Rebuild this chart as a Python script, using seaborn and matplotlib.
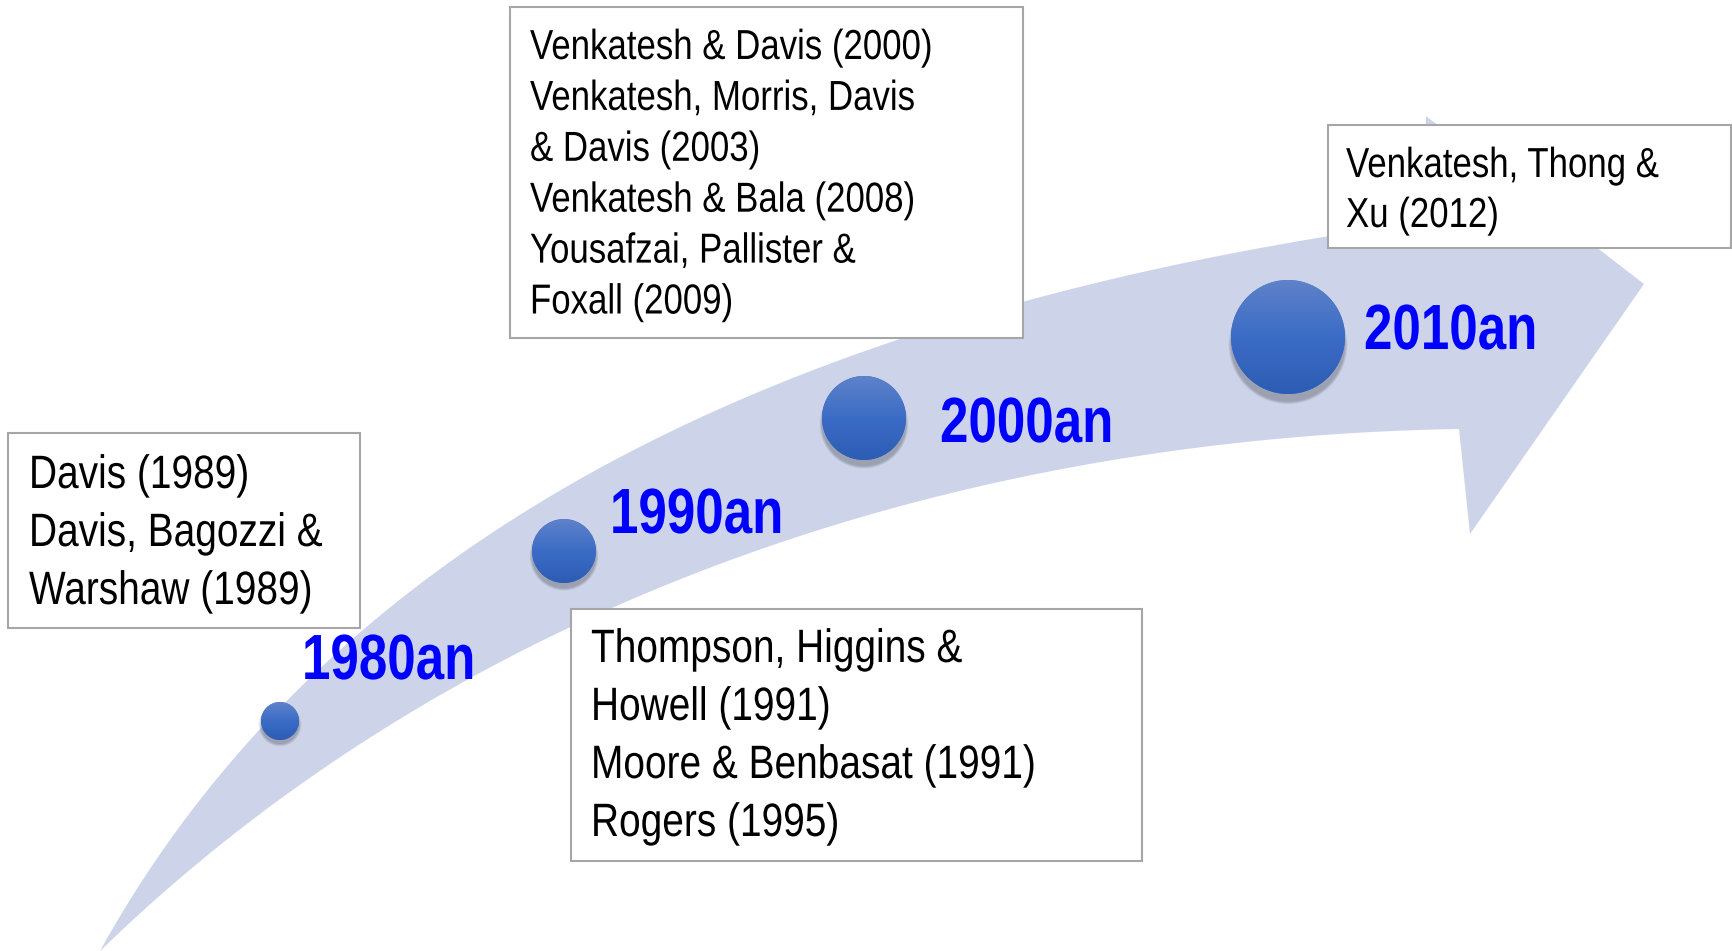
import numpy as np
import pandas as pd
import matplotlib
matplotlib.use('Agg')
import matplotlib.pyplot as plt
from matplotlib.patches import Polygon, Rectangle, Circle
from matplotlib.colors import LinearSegmentedColormap
from matplotlib.patheffects import AbstractPathEffect
from matplotlib.transforms import Affine2D
import seaborn as sns

# 데이터 (텍스트 내용)
decades = ['1980an', '1990an', '2000an', '2010an']
refs_1980 = ['Davis (1989)', 'Davis, Bagozzi &', 'Warshaw (1989)']
refs_1990 = ['Thompson, Higgins &', 'Howell (1991)', 'Moore & Benbasat (1991)', 'Rogers (1995)']
refs_2000 = ['Venkatesh & Davis (2000)', 'Venkatesh, Morris, Davis', '& Davis (2003)',
             'Venkatesh & Bala (2008)', 'Yousafzai, Pallister &', 'Foxall (2009)']
refs_2010 = ['Venkatesh, Thong &', 'Xu (2012)']

# 레이아웃 (픽셀 좌표, y 아래로 증가)
W, H = 1733, 951
DOT_X = [280, 564, 864, 1288]
DOT_Y = [721, 551, 418, 337]
DOT_R = [19, 32, 42, 57]
LABEL_X = [302, 610, 940, 1364]
LABEL_Y = [679, 533, 442, 349]
# (lines, box rect, text_x, first_baseline, line_step, fontsize)
BOXES = [
    (refs_1980, (8, 433, 360, 628), 29, 488, 58, 33.7),
    (refs_2000, (510, 7, 1023, 338), 530, 59, 50.9, 30.2),
    (refs_1990, (571, 609, 1142, 861), 591, 662, 58, 33.7),
    (refs_2010, (1328, 125, 1731, 248), 1346, 177, 50, 30.2),
]
UPPER_EDGE = np.array([(100, 951), (151, 870), (205, 793), (259, 737), (330, 670),
                       (401, 613), (459, 548), (518, 500), (600, 468), (702, 400),
                       (900, 347), (1022, 308), (1168, 272), (1327, 238), (1423, 222)], float)
LOWER_EDGE = np.array([(100, 951), (190, 874), (260, 822), (332, 772), (415, 712),
                       (565, 617), (644, 588), (874, 513), (1130, 463), (1283, 443),
                       (1459, 429)], float)
HEAD = [(1426, 116), (1644, 284), (1470, 534)]

ARROW_COLOR = '#cdd4ea'
BOX_EDGE = '#a6a6a6'
LABEL_COLOR = '#0000ff'
TEXT_FONT = ['Liberation Sans', 'DejaVu Sans']


class Squeeze(AbstractPathEffect):
    """글자를 가로로 좁힘 (Arial Narrow 느낌)"""

    def __init__(self, sx):
        super().__init__()
        self.sx = sx

    def draw_path(self, renderer, gc, tpath, affine, rgbFace=None):
        m = affine.get_matrix().copy()
        x0 = m[0, 2]
        aff = Affine2D(m).translate(-x0, 0).scale(self.sx, 1).translate(x0, 0)
        renderer.draw_path(gc, tpath, aff, rgbFace)


def fit_bezier(pts, n=200):
    # 양 끝점 고정, 중간 제어점 최소제곱
    d = np.r_[0, np.cumsum(np.hypot(*np.diff(pts, axis=0).T))]
    t = d / d[-1]
    p0, p3 = pts[0], pts[-1]
    A = np.c_[3 * (1 - t) ** 2 * t, 3 * (1 - t) * t ** 2]
    rhs = pts - np.outer((1 - t) ** 3, p0) - np.outer(t ** 3, p3)
    ctrl, *_ = np.linalg.lstsq(A, rhs, rcond=None)
    p1, p2 = ctrl
    s = np.linspace(0, 1, n)[:, None]
    return (1 - s) ** 3 * p0 + 3 * (1 - s) ** 2 * s * p1 + 3 * (1 - s) * s ** 2 * p2 + s ** 3 * p3


sns.set_theme(style='white')
plt.rcParams['font.family'] = TEXT_FONT

fig = plt.figure(figsize=(W / 100, H / 100), dpi=100)
ax = fig.add_axes([0, 0, 1, 1])

# 화살표 몸통 + 머리
upper = fit_bezier(UPPER_EDGE)
lower = fit_bezier(LOWER_EDGE)
outline = np.vstack([upper, HEAD, lower[::-1]])
ax.add_patch(Polygon(outline, closed=True, facecolor=ARROW_COLOR, edgecolor='none', zorder=1))

# 참고문헌 박스
for lines, (x0, y0, x1, y1), tx, by, step, fs in BOXES:
    ax.add_patch(Rectangle((x0, y0), x1 - x0, y1 - y0, facecolor='white',
                           edgecolor=BOX_EDGE, linewidth=1.5, zorder=3))
    for i, line in enumerate(lines):
        ax.text(tx, by + i * step, line, fontsize=fs, color='black',
                ha='left', va='baseline', zorder=4, family=TEXT_FONT,
                path_effects=[Squeeze(0.83)])

# 원 그림자 (아래쪽으로 부드럽게)
for cx, cy, r in zip(DOT_X, DOT_Y, DOT_R):
    for k in range(0, 5):
        ax.add_patch(Circle((cx, cy + 0.1 * r + 2), r + k * 0.6, facecolor='black',
                            edgecolor='none', alpha=0.05, zorder=4.5))

# 원 (기본색은 seaborn scatter, 그 위에 그라데이션)
dots = pd.DataFrame({'decade': decades, 'x': DOT_X, 'y': DOT_Y,
                     's': [(2 * r * 0.72) ** 2 for r in DOT_R]})
sns.scatterplot(data=dots, x='x', y='y', size='s', sizes=(dots['s'].min(), dots['s'].max()),
                color='#3b6cc5', edgecolor='none', legend=False, ax=ax, zorder=5)

dot_cmap = LinearSegmentedColormap.from_list('dot', ['#5f82ca', '#3b6cc5', '#2e5cb4'])
grad = np.linspace(0, 1, 256)[:, None]
for cx, cy, r in zip(DOT_X, DOT_Y, DOT_R):
    im = ax.imshow(grad, cmap=dot_cmap, extent=[cx - r, cx + r, cy + r, cy - r],
                   aspect='auto', zorder=6, interpolation='bilinear')
    im.set_clip_path(Circle((cx, cy), r, transform=ax.transData))

# 연대 라벨
for lab, lx, ly in zip(decades, LABEL_X, LABEL_Y):
    ax.text(lx, ly, lab, fontsize=46, fontweight='bold', color=LABEL_COLOR,
            ha='left', va='baseline', zorder=7, family=TEXT_FONT,
            path_effects=[Squeeze(0.8)])

ax.set_xlim(0, W)
ax.set_ylim(H, 0)
ax.set_xlabel('')
ax.set_ylabel('')
ax.axis('off')
fig.savefig('out.png', dpi=100, facecolor='white')
